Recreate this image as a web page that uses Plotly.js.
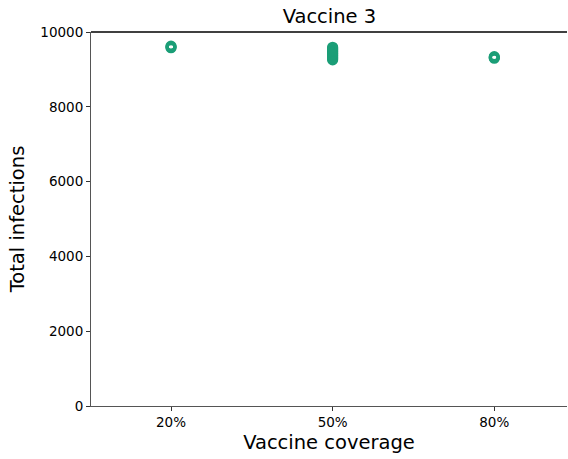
<!DOCTYPE html>
<html><head><meta charset="utf-8">
<script src="https://cdn.plot.ly/plotly-3.0.1.min.js"></script>
<style>body{margin:0;padding:0;background:#fff}#chart{width:568px;height:459px}</style>
</head><body><div id="chart"></div>
<script>
const coverage = ["20%", "50%", "80%"];
const cov20 = [9580, 9600, 9620];
const cov50 = [9255, 9290, 9320, 9350, 9380, 9410, 9440, 9470, 9500, 9530, 9560, 9590];
const cov80 = [9300, 9320, 9340];
const yTicks = [0, 2000, 4000, 6000, 8000, 10000];

const xs = [], ys = [];
[cov20, cov50, cov80].forEach((arr, i) => arr.forEach(v => { xs.push(coverage[i]); ys.push(v); }));

const trace = {
  type: 'scatter', mode: 'markers', x: xs, y: ys,
  marker: {symbol: 'circle-open', size: 8, color: '#1b9e77', line: {width: 3.2, color: '#1b9e77'}},
  showlegend: false, cliponaxis: false
};
const font = {family: 'DejaVu Sans', color: '#000'};
const layout = {
  width: 568, height: 459,
  margin: {l: 91, r: 1, t: 32, b: 53},
  paper_bgcolor: '#fff', plot_bgcolor: '#fff',
  title: {text: 'Vaccine 3', font: {family: 'DejaVu Sans', size: 19.5, color: '#000'}, x: 0.58, xanchor: 'center', y: 0.979, yanchor: 'top'},
  xaxis: {
    type: 'category', categoryorder: 'array', categoryarray: coverage,
    range: [-0.495, 2.45], showgrid: false, zeroline: false,
    showline: true, linecolor: '#555', linewidth: 1,
    ticks: 'outside', ticklen: 4, tickcolor: '#333',
    tickfont: {family: 'DejaVu Sans', size: 13.5, color: '#000'},
    title: {text: 'Vaccine coverage', font: {family: 'DejaVu Sans', size: 19.5, color: '#000'}, standoff: 6}
  },
  yaxis: {
    range: [0, 10000], tickvals: yTicks, ticktext: yTicks.map(String),
    showgrid: false, zeroline: false, showline: true, linecolor: '#555', linewidth: 1,
    ticks: 'outside', ticklen: 4, tickcolor: '#333',
    tickfont: {family: 'DejaVu Sans', size: 13.5, color: '#000'},
    title: {text: 'Total infections', font: {family: 'DejaVu Sans', size: 19.5, color: '#000'}, standoff: 10}
  },
  shapes: [{type: 'line', xref: 'paper', yref: 'paper', x0: 0, x1: 1, y0: 1, y1: 1, line: {color: '#000', width: 1.5}}],
  font: font
};
Plotly.newPlot('chart', [trace], layout, {displayModeBar: false, staticPlot: true});
</script></body></html>
